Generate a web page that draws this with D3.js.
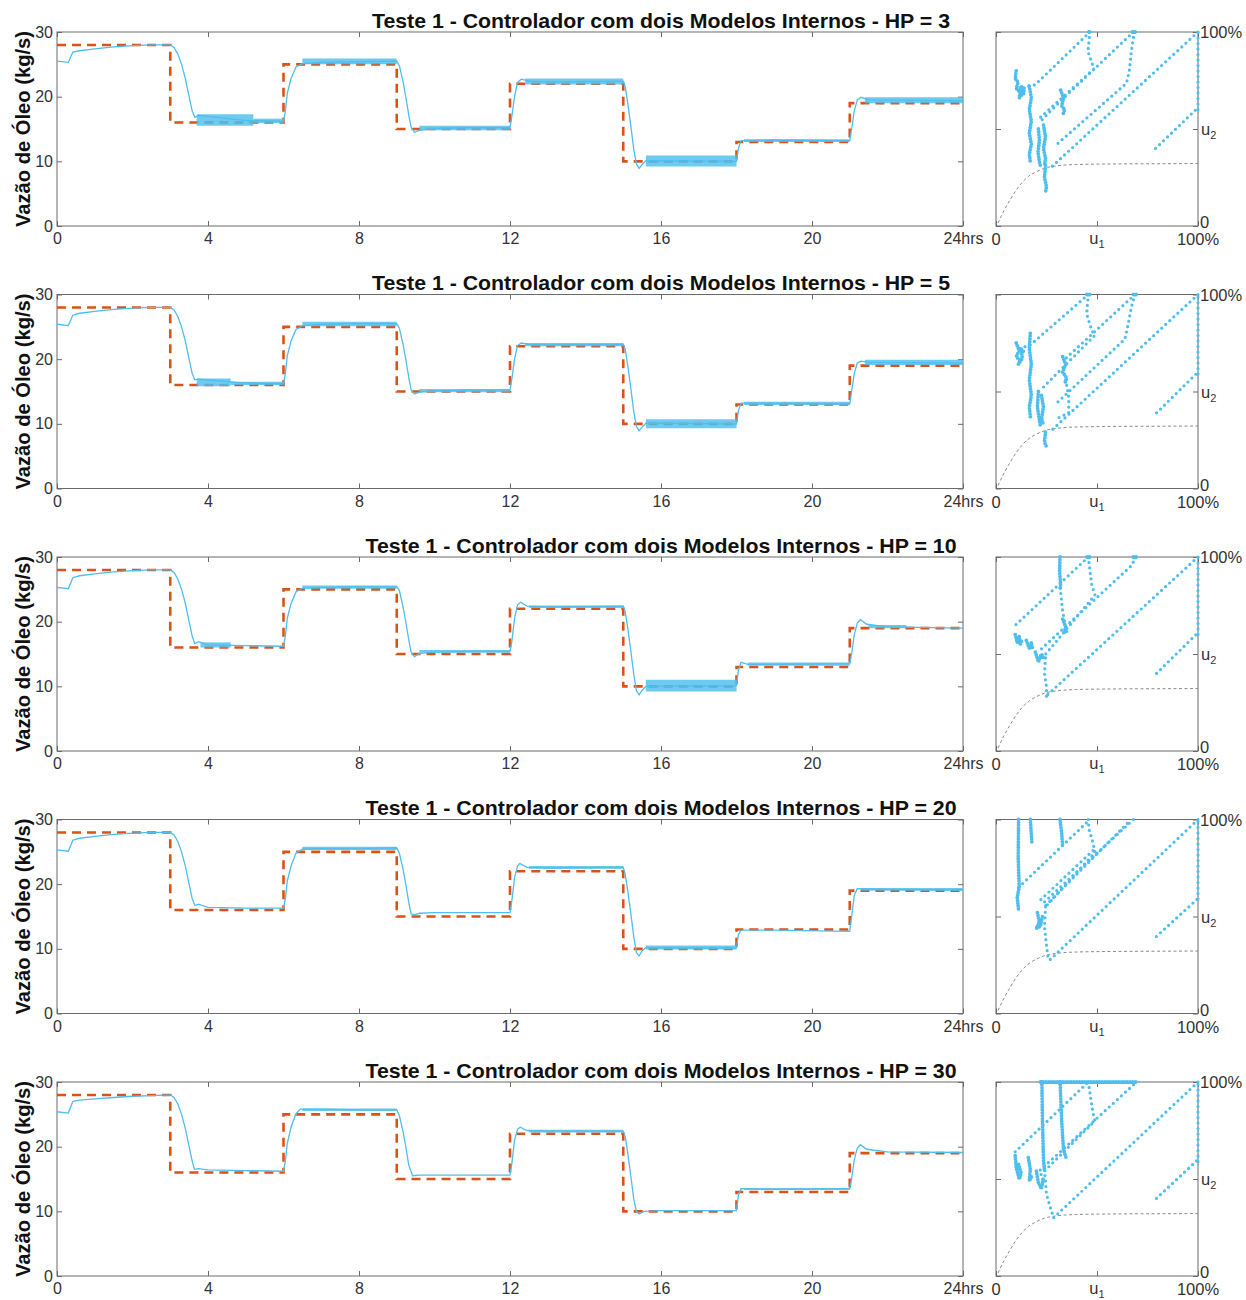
<!DOCTYPE html>
<html><head><meta charset="utf-8">
<script src="https://cdn.jsdelivr.net/npm/d3@7"></script>
<style>body{margin:0;background:#fff} svg{display:block} text{font-family:"Liberation Sans",Arial,sans-serif}</style>
</head><body><svg id="c" width="1246" height="1300"></svg>
<script>
// ---------- data ----------
const hpValues = [3, 5, 10, 20, 30];
const hourTicks = [0, 4, 8, 12, 16, 20, 24];
const hourTickLabels = ["0", "4", "8", "12", "16", "20", "24hrs"];
const flowTicks = [0, 10, 20, 30];
const setpointTimes = [0, 3, 6, 9, 12, 15, 18, 21, 24];
const setpointValues = [28, 16, 25, 15, 22, 10, 13, 19, 19];

const responseHP3 = [[0,25.5],[0.3,25.3],[0.42,26.9],[0.6,27.1],[1,27.4],[1.5,27.7],[2,27.9],[2.5,28],[3,28],[3.1,27.6],[3.2,26.6],[3.3,25],[3.4,22.8],[3.5,20],[3.58,17.8],[3.65,16.8],[3.75,17.1],[5,16.3],[6,16.2],[6.05,17.8],[6.1,20.5],[6.2,22.8],[6.33,24.6],[6.5,25.1],[7,25.3],[8,25.4],[9,25.5],[9.07,24.8],[9.17,22.2],[9.25,19.6],[9.32,17.1],[9.38,15.3],[9.47,14.5],[9.6,14.8],[10,15.1],[11,15.2],[12,15.2],[12.05,17],[12.12,20],[12.2,22.2],[12.3,22.7],[12.5,22.4],[13,22.3],[15,22.4],[15.05,21.6],[15.12,19],[15.2,15.5],[15.28,11.8],[15.35,9.6],[15.42,8.9],[15.5,9.5],[15.6,10.1],[18,10],[18.05,12],[18.12,13.2],[19,13.3],[21,13.2],[21.05,15],[21.12,17.8],[21.2,19.5],[21.3,19.9],[21.5,19.5],[24,19.4]];
const noiseHP3 = [[3.7,5.2,15.5,17.3],[5.2,6,15.9,16.6],[6.5,9,25,25.9],[9.6,12,14.8,15.5],[12.4,15,21.9,22.8],[15.6,18,9.2,10.9],[18.2,21,13,13.4],[21.4,24,19,19.9]];

const responseHP5 = [[0,25.4],[0.3,25.2],[0.42,26.8],[0.6,27.1],[1,27.4],[1.5,27.7],[2,27.9],[2.5,28],[3,28],[3.1,27.6],[3.2,26.6],[3.3,25],[3.4,22.8],[3.5,20],[3.58,17.8],[3.65,16.8],[3.75,16.9],[5,16.3],[6,16.2],[6.05,17.8],[6.1,20.5],[6.2,22.8],[6.33,24.6],[6.5,25.2],[7,25.4],[8,25.5],[9,25.5],[9.07,24.8],[9.17,22.2],[9.25,19.6],[9.32,17.1],[9.38,15.3],[9.47,14.6],[9.6,14.9],[10,15.1],[11,15.2],[12,15.2],[12.05,17],[12.12,20],[12.2,22.1],[12.3,22.5],[12.5,22.3],[13,22.2],[15,22.3],[15.05,21.6],[15.12,19],[15.2,15.5],[15.28,11.8],[15.35,9.6],[15.42,8.9],[15.5,9.5],[15.6,10.1],[18,10],[18.05,12],[18.12,13.2],[19,13.2],[21,13.1],[21.05,15],[21.12,17.8],[21.2,19.4],[21.3,19.7],[21.5,19.5],[24,19.4]];
const noiseHP5 = [[3.7,4.6,15.8,17.0],[4.6,6,16,16.5],[6.5,9,25.1,25.8],[9.6,12,14.9,15.4],[12.4,15,22,22.5],[15.6,18,9.3,10.7],[18.2,21,12.9,13.4],[21.4,24,19.1,19.9]];

const responseHP10 = [[0,25.3],[0.3,25.1],[0.42,26.8],[0.6,27.1],[1,27.4],[1.5,27.7],[2,27.9],[2.5,28],[3,28],[3.1,27.6],[3.2,26.6],[3.3,25],[3.4,22.8],[3.5,20],[3.58,17.8],[3.65,16.6],[3.75,16.9],[4,16.4],[5,16.3],[6,16.2],[6.05,17.8],[6.1,20.5],[6.2,22.8],[6.33,24.6],[6.5,25.2],[7,25.3],[8,25.4],[9,25.4],[9.07,24.8],[9.17,22.2],[9.25,19.6],[9.32,17.1],[9.38,15.3],[9.47,14.6],[9.6,15.1],[10,15.3],[11,15.4],[12,15.4],[12.05,17],[12.12,20.5],[12.2,22.6],[12.28,23.0],[12.45,22.4],[13,22.3],[15,22.4],[15.05,21.6],[15.12,19],[15.2,15.5],[15.28,11.8],[15.35,9.3],[15.42,8.7],[15.5,9.4],[15.6,10],[18,10.1],[18.05,12.5],[18.12,13.7],[18.3,13.4],[19,13.4],[21,13.5],[21.05,15],[21.12,18],[21.2,19.8],[21.28,20.3],[21.45,19.6],[22,19.2],[24,19.0]];
const noiseHP10 = [[3.8,4.6,16.0,16.8],[6.5,9,25.1,25.6],[9.6,12,15.2,15.6],[12.5,15,22.1,22.5],[15.6,18,9.2,11.0],[18.3,21,13.2,13.7],[21.5,22.5,19.0,19.5]];

const responseHP20 = [[0,25.3],[0.3,25.1],[0.42,26.8],[0.6,27.1],[1,27.4],[1.5,27.7],[2,27.9],[2.5,28],[3,28],[3.1,27.6],[3.2,26.6],[3.3,25],[3.4,22.8],[3.5,20],[3.58,17.8],[3.65,16.7],[3.75,16.9],[4,16.4],[5,16.3],[6,16.3],[6.05,17.8],[6.1,20.5],[6.2,22.8],[6.33,24.8],[6.5,25.4],[7,25.5],[8,25.5],[9,25.6],[9.07,24.8],[9.17,22.2],[9.25,19.6],[9.32,17.1],[9.38,15.4],[9.47,15.3],[9.6,15.5],[10,15.6],[11,15.6],[12,15.6],[12.05,17.5],[12.12,21],[12.2,22.8],[12.26,23.2],[12.45,22.6],[13,22.5],[15,22.6],[15.05,21.6],[15.12,19],[15.2,15.5],[15.28,11.8],[15.35,9.4],[15.42,8.9],[15.5,9.7],[15.6,10.2],[18,10.1],[18.05,12.2],[18.12,12.9],[19,12.9],[21,12.7],[21.05,15],[21.12,18.3],[21.2,19.3],[22,19.2],[24,19.1]];
const noiseHP20 = [[6.5,9,25.3,25.8],[12.5,15,22.4,22.8],[15.6,18,9.9,10.5],[21.3,24,19,19.4]];

const responseHP30 = [[0,25.4],[0.3,25.2],[0.42,27.0],[0.6,27.2],[1,27.4],[1.5,27.6],[2,27.8],[2.5,27.9],[3,28],[3.1,27.6],[3.2,26.6],[3.3,25],[3.4,22.8],[3.5,20],[3.58,17.8],[3.64,16.5],[3.75,16.6],[4,16.4],[5,16.3],[6,16.2],[6.05,17.8],[6.1,20.5],[6.2,23],[6.33,25.1],[6.45,25.8],[7,25.8],[8,25.7],[9,25.7],[9.07,24.8],[9.17,22.2],[9.25,19.6],[9.32,17.1],[9.42,15.5],[9.6,15.6],[11,15.6],[12,15.6],[12.05,17.5],[12.12,21],[12.2,22.7],[12.27,23.0],[12.45,22.5],[13,22.4],[15,22.4],[15.05,21.6],[15.12,19],[15.2,15.5],[15.28,11.8],[15.35,10],[15.42,9.6],[15.55,10],[16,10.1],[18,10.1],[18.05,12.5],[18.12,13.5],[19,13.4],[21,13.5],[21.05,15],[21.12,18],[21.2,19.8],[21.28,20.3],[21.45,19.6],[22,19.2],[24,19.1]];
const noiseHP30 = [[6.5,9,25.5,25.9],[12.5,15,22.2,22.6],[18.2,21,13.3,13.6]];

const boundaryU1 = [1, 4, 7, 10, 13, 16, 20, 24, 30, 40, 60, 80, 100];
const boundaryU2 = [1.5, 8, 13.5, 18.5, 22.5, 25.5, 28, 29.8, 31, 31.7, 32, 32.1, 32.2];

const trajHP3 = [
  [[100,60],[100,100]], [[79,40],[100,61]], [[100,100],[26.5,29.5]],
  [[46.5,100],[19.4,72.8],[14,72]],
  [[68,100],[33.5,66],[22,54]],
  [[46.5,100],[45.5,90],[47.5,84],[48.5,81],[22,56]],
  [[68.5,100],[67,90],[66,80],[64.6,73.6],[30,42]]
];
const clusterHP3 = [
  [[10,80],[9.5,76],[11,74],[10,71],[12,69],[11.5,66],[13,68],[12,72],[14,71],[13.5,67]],
  [[16.5,72],[17.5,66],[16.5,60],[17.5,54],[16.5,48],[17.5,42],[16.5,37],[17,33]],
  [[21,50],[21.5,44],[20.8,38],[21.5,33],[22,31]],
  [[23.5,52],[24.5,46],[23.5,40],[24.5,35],[24,31]],
  [[24.5,31],[24,25],[25,20],[24.5,17.5]],
  [[32,70],[33.5,66],[32.5,62],[34,60],[33,57]],
  [[46,100],[47,100]], [[67.5,100],[69,100]]
];

const trajHP5 = [
  [[100,59],[100,100]], [[79.5,39],[100,60]], [[100,100],[26.5,29]],
  [[45.7,100],[17,74],[11,72]],
  [[45.7,100],[44.9,90],[47.4,81.5],[49,79],[21.9,50.6]],
  [[68.8,100],[67,93.5],[65.5,85],[63.8,77],[30,44]],
  [[68.8,100],[33.4,66]],
  [[34.5,56],[36,47],[36,39],[31,36.5]]
];
const clusterHP5 = [
  [[10,75],[11.5,71],[10,68],[12,66],[11,64],[13,67],[12.5,72],[14,70]],
  [[17,80],[16.5,72],[17.5,64],[16.5,56],[17.5,48],[16.5,42],[17,37]],
  [[21,50],[20.5,42],[21.5,35],[22,32]],
  [[22.5,48],[23.5,42],[22.5,36],[23.5,33]],
  [[24.5,29],[24,24],[25,21.5]],
  [[33,68],[34.5,64],[33,60],[35,57],[34,54]],
  [[45,100],[46.5,100]], [[68,100],[69.5,100]]
];

const trajHP10 = [
  [[100,60],[100,100]], [[79.5,40],[100,61]], [[100,100],[25,28.5]],
  [[45.7,100],[8.7,64]],
  [[45.7,100],[47.4,85.6],[49,80.4],[23.5,48.6]],
  [[68.8,100],[67.5,96],[21,51.2]],
  [[31.8,84],[33,72],[35,61.5]],
  [[24.5,48],[24,40],[25,33],[25,27]]
];
const clusterHP10 = [
  [[31.7,100],[31.5,92],[32,86],[31.8,84]],
  [[9.5,60],[10.5,56],[11.5,59],[12,55],[12.8,57]],
  [[15,57],[16.5,53],[17.5,56],[18,53]],
  [[19.5,51],[21,46],[22.5,50],[24,47]],
  [[33,68],[34.5,64],[33.5,60]],
  [[45,100],[46.5,100]], [[68,100],[69.5,100]]
];

const trajHP20 = [
  [[100,59],[100,100]], [[79.4,39.7],[100,59.3]], [[100,100],[26,27]],
  [[11.2,65],[46.5,100]],
  [[45.7,100],[46,95],[48,88],[49,83],[24.5,55]],
  [[68,100],[23.5,57]],
  [[65,98],[23,54]],
  [[48,84],[22,58.5]],
  [[24.5,55],[24,45],[25,35],[26,27]]
];
const clusterHP20 = [
  [[11.2,100],[11,80],[11.5,65],[10.5,60],[11.2,53]],
  [[17,100],[17.5,92],[17.8,87.5]],
  [[31.7,100],[32.5,93],[33,86]],
  [[20.5,52],[21.5,47],[20,44],[22,45],[23,50]]
];

const trajHP30 = [
  [[100,59],[100,100]], [[79.4,40],[100,60]], [[100,100],[28.5,30]],
  [[9.5,64],[45.7,100]],
  [[24,54.6],[25,42],[28.5,30]],
  [[45.7,100],[48,84],[49,80],[22,52]],
  [[21.9,54.6],[69.6,100]]
];
const clusterHP30 = [
  [[22,100],[69.6,100]],
  [[22.7,100],[23,80],[23.5,60],[24,54.6]],
  [[31.7,100],[32.5,80],[33.4,65],[35,60]],
  [[9.5,62],[10,56],[11.5,50],[12.5,53],[11,58]],
  [[16,61],[17,55],[16.5,49],[18,52]],
  [[20,54],[21,48],[22.5,45],[23.5,51]]
];

const responses = [responseHP3, responseHP5, responseHP10, responseHP20, responseHP30];
const noises = [noiseHP3, noiseHP5, noiseHP10, noiseHP20, noiseHP30];
const trajs = [trajHP3, trajHP5, trajHP10, trajHP20, trajHP30];
const clusters = [clusterHP3, clusterHP5, clusterHP10, clusterHP20, clusterHP30];

// ---------- drawing ----------
const svg = d3.select("#c");
const C = {sp: "#D95319", y: "#4DBEEE", axis: "#6b6b6b", text: "#333333"};
const plotH = 194;

hpValues.forEach((hp, i) => {
  const top = 32 + i * 262.5, bottom = top + plotH;
  const x = d3.scaleLinear().domain([0, 24]).range([57, 963]);
  const y = d3.scaleLinear().domain([0, 30]).range([bottom, top]);
  const g = svg.append("g");

  g.append("text").attr("x", 661).attr("y", top - 4.5).attr("text-anchor", "middle")
    .attr("font-weight", "bold").attr("font-size", 21).attr("fill", "#111")
    .attr("textLength", hp < 10 ? 578 : 591).attr("lengthAdjust", "spacingAndGlyphs")
    .text(`Teste 1 - Controlador com dois Modelos Internos - HP = ${hp}`);

  g.append("text").attr("transform", `translate(30,${top + 97}) rotate(-90)`)
    .attr("text-anchor", "middle").attr("font-weight", "bold").attr("font-size", 20)
    .attr("fill", "#111").attr("textLength", 196).attr("lengthAdjust", "spacingAndGlyphs")
    .text("Vazão de Óleo (kg/s)");

  // axes
  const ax = g.append("g").attr("transform", `translate(0,${bottom})`)
    .call(d3.axisBottom(x).tickValues(hourTicks).tickFormat((d, k) => hourTickLabels[k])
      .tickSizeInner(-5).tickSizeOuter(0).tickPadding(7));
  const ay = g.append("g").attr("transform", `translate(57,0)`)
    .call(d3.axisLeft(y).tickValues(flowTicks).tickSizeInner(-5).tickSizeOuter(0).tickPadding(4));
  const at = g.append("g").attr("transform", `translate(0,${top})`)
    .call(d3.axisTop(x).tickValues(hourTicks).tickFormat("").tickSizeInner(-5).tickSizeOuter(0));
  const ar = g.append("g").attr("transform", `translate(963,0)`)
    .call(d3.axisRight(y).tickValues(flowTicks).tickFormat("").tickSizeInner(-5).tickSizeOuter(0));
  [ax, ay, at, ar].forEach(a => {
    a.select(".domain").remove();
    a.selectAll("line").attr("stroke", C.axis);
    a.selectAll("text").attr("fill", C.text).attr("font-size", 16).attr("font-family", '"Liberation Sans",Arial,sans-serif');
  });
  g.append("rect").attr("x", 57).attr("y", top).attr("width", 906).attr("height", plotH)
    .attr("fill", "none").attr("stroke", C.axis).attr("stroke-width", 1);

  // setpoint
  const spData = setpointTimes.map((t, k) => [t, setpointValues[k]]);
  g.append("path").datum(spData)
    .attr("d", d3.line().x(d => x(d[0])).y(d => y(d[1])).curve(d3.curveStepAfter))
    .attr("fill", "none").attr("stroke", C.sp).attr("stroke-width", 2.6).attr("stroke-dasharray", "9,6");

  // noise bands
  noises[i].forEach(b => {
    g.append("path").datum([[b[0], b[2], b[3]], [b[1], b[2], b[3]]])
      .attr("d", d3.area().x(d => x(d[0])).y0(d => y(d[1])).y1(d => y(d[2])))
      .attr("fill", C.y).attr("opacity", 0.82);
  });
  // response
  g.append("path").datum(responses[i])
    .attr("d", d3.line().x(d => x(d[0])).y(d => y(d[1])))
    .attr("fill", "none").attr("stroke", C.y).attr("stroke-width", 1.3);

  // ---------- right panel ----------
  const ux = d3.scaleLinear().domain([0, 100]).range([996, 1198]);
  const uy = d3.scaleLinear().domain([0, 100]).range([bottom, top]);
  const rg = svg.append("g");
  const rb = rg.append("g").attr("transform", `translate(0,${bottom})`)
    .call(d3.axisBottom(ux).tickValues([0, 50, 100]).tickFormat("").tickSizeInner(-5).tickSizeOuter(0));
  const rt = rg.append("g").attr("transform", `translate(0,${top})`)
    .call(d3.axisTop(ux).tickValues([0, 50, 100]).tickFormat("").tickSizeInner(-5).tickSizeOuter(0));
  const rl = rg.append("g").attr("transform", `translate(996,0)`)
    .call(d3.axisLeft(uy).tickValues([0, 50, 100]).tickFormat("").tickSizeInner(-5).tickSizeOuter(0));
  const rr = rg.append("g").attr("transform", `translate(1198,0)`)
    .call(d3.axisRight(uy).tickValues([0, 50, 100]).tickFormat("").tickSizeInner(-5).tickSizeOuter(0));
  [rb, rt, rl, rr].forEach(a => { a.select(".domain").remove(); a.selectAll("line").attr("stroke", C.axis); });
  rg.append("rect").attr("x", 996).attr("y", top).attr("width", 202).attr("height", plotH)
    .attr("fill", "none").attr("stroke", C.axis).attr("stroke-width", 1);

  const bnd = boundaryU1.map((u, k) => [u, boundaryU2[k]]);
  rg.append("path").datum(bnd)
    .attr("d", d3.line().x(d => ux(d[0])).y(d => uy(d[1])).curve(d3.curveMonotoneX))
    .attr("fill", "none").attr("stroke", "#8c8c8c").attr("stroke-width", 1).attr("stroke-dasharray", "3,2.5");

  const uline = d3.line().x(d => ux(d[0])).y(d => uy(d[1]));
  trajs[i].forEach(p => {
    rg.append("path").datum(p).attr("d", uline).attr("fill", "none")
      .attr("stroke", C.y).attr("stroke-width", 3.2).attr("stroke-linecap", "round")
      .attr("stroke-dasharray", "0,5.5");
  });
  clusters[i].forEach(p => {
    rg.append("path").datum(p).attr("d", uline).attr("fill", "none")
      .attr("stroke", C.y).attr("stroke-width", 3.8).attr("stroke-linecap", "round")
      .attr("stroke-dasharray", "0,2.8");
  });

  const lab = (xx, yy, anchor, txt, sub) => {
    const t = rg.append("text").attr("x", xx).attr("y", yy).attr("text-anchor", anchor)
      .attr("font-size", 16.5).attr("fill", C.text).text(txt);
    if (sub) t.append("tspan").attr("font-size", 11).attr("dy", 4).text(sub);
  };
  lab(1200, top + 6, "start", "100%");
  lab(1201, top + 103, "start", "u", "2");
  lab(1200, bottom + 2, "start", "0");
  lab(996, bottom + 19, "middle", "0");
  lab(1097, bottom + 18, "middle", "u", "1");
  lab(1198, bottom + 19, "middle", "100%");
});
</script></body></html>
